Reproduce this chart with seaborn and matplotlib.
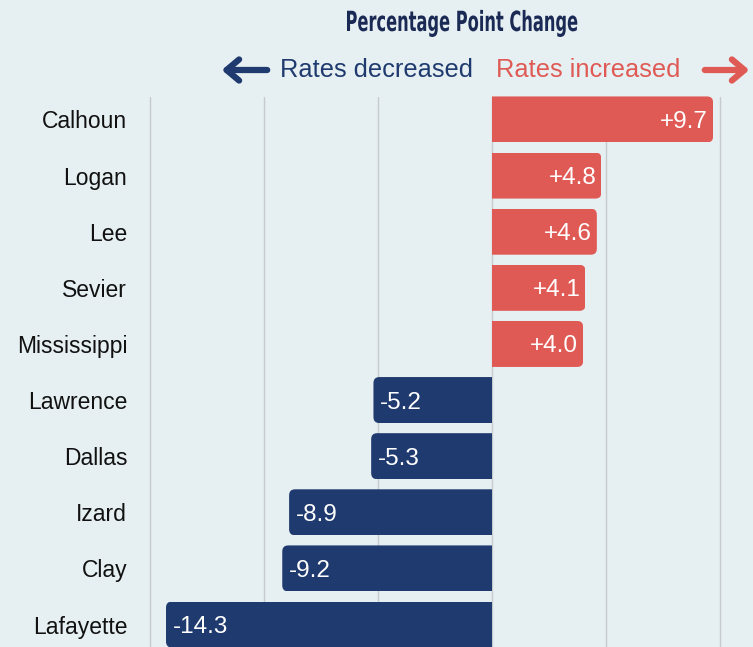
import matplotlib
matplotlib.use("Agg")
import matplotlib.pyplot as plt
import seaborn as sns
import pandas as pd
from matplotlib.patches import FancyBboxPatch, Rectangle, FancyArrowPatch
from matplotlib.patheffects import AbstractPathEffect
from matplotlib.transforms import Affine2D

# Data
counties = ['Calhoun', 'Logan', 'Lee', 'Sevier', 'Mississippi',
            'Lawrence', 'Dallas', 'Izard', 'Clay', 'Lafayette']
changes = [9.7, 4.8, 4.6, 4.1, 4.0, -5.2, -5.3, -8.9, -9.2, -14.3]
grid_ticks = [-15, -10, -5, 0, 5, 10]

bg = '#E6EFF1'
navy = '#1F3A6E'
red = '#E05A55'


class Squeeze(AbstractPathEffect):
    """Narrow text horizontally around a fixed x (display pixels)."""
    def __init__(self, sx, cx):
        super().__init__()
        self.sx = sx
        self.cx = cx

    def draw_path(self, renderer, gc, tpath, affine, rgbFace=None):
        t = affine + Affine2D().translate(-self.cx, 0).scale(self.sx, 1).translate(self.cx, 0)
        renderer.draw_path(gc, tpath, t, rgbFace)


sns.set_theme(style="whitegrid", rc={
    'axes.facecolor': bg,
    'figure.facecolor': bg,
    'grid.color': '#C6CBCE',
    'grid.linewidth': 1.0,
})
plt.rcParams['font.family'] = ['Liberation Sans', 'DejaVu Sans']

df = pd.DataFrame({'county': counties, 'change': changes})
df['direction'] = ['up' if v > 0 else 'down' for v in df['change']]

fig = plt.figure(figsize=(7.53, 6.47), dpi=100)
ax = fig.add_axes([148 / 753, 0, 605 / 753, 550 / 647])

sns.barplot(data=df, x='change', y='county', hue='direction', orient='h',
            palette={'up': red, 'down': navy}, width=0.82, dodge=False,
            saturation=1, legend=False, ax=ax)

ax.set_xlim(-15.09, 11.45)
ax.set_ylim(9.4, -0.4)
ax.set_xticks(grid_ticks)
ax.set_xticklabels([])
ax.tick_params(axis='x', length=0)
ax.tick_params(axis='y', length=0, pad=15, labelsize=16.5, labelcolor='#111111')
ax.grid(axis='y', visible=False)
ax.grid(axis='x', visible=True)
ax.set_axisbelow(True)
ax.set_xlabel('')
ax.set_ylabel('')
for s in ax.spines.values():
    s.set_visible(False)

# rounded bar ends on the outer side; zero side kept square by clipping
r = 0.263
asp = 0.407
for p in list(ax.patches):
    x0, w, y0, h = p.get_x(), p.get_width(), p.get_y(), p.get_height()
    if w == 0 or h == 0:
        continue
    fc = p.get_facecolor()
    p.set_visible(False)
    left = min(x0, x0 + w)
    aw = abs(w)
    if x0 + w > 0:
        box = FancyBboxPatch((left - 1, y0), aw + 1, h,
                             boxstyle=f"round,pad=0,rounding_size={r}",
                             mutation_aspect=asp, fc=fc, ec='none', zorder=3)
    else:
        box = FancyBboxPatch((left, y0), aw + 1, h,
                             boxstyle=f"round,pad=0,rounding_size={r}",
                             mutation_aspect=asp, fc=fc, ec='none', zorder=3)
    ax.add_patch(box)
    box.set_clip_path(Rectangle((left, y0), aw, h, transform=ax.transData))

# value labels inside bars
for i, v in enumerate(changes):
    if v > 0:
        ax.text(v - 0.22, i, f'+{v:.1f}', ha='right', va='center_baseline',
                color='white', fontsize=17.5, zorder=4)
    else:
        ax.text(v + 0.3, i, f'{v:.1f}', ha='left', va='center_baseline',
                color='white', fontsize=17.5, zorder=4)

# title (condensed look) and direction legend
title = fig.text(462 / 753, 1 - 31 / 647, 'Percentage Point Change', ha='center',
                 va='baseline', fontsize=20, color='#1B2A55', fontweight='bold',
                 fontstretch='condensed', family=['DejaVu Sans'])
fig.canvas.draw()
tw = title.get_window_extent().width
title.set_path_effects([Squeeze(233 / tw, 462)])

ytxt = 1 - 70 / 647
fig.text(376 / 753, ytxt, 'Rates decreased', ha='center', va='center',
         fontsize=18.3, color=navy)
fig.text(588 / 753, ytxt, 'Rates increased', ha='center', va='center',
         fontsize=18.3, color=red)
fig.add_artist(FancyArrowPatch((270 / 753, ytxt), (219 / 753, ytxt),
                               transform=fig.transFigure,
                               arrowstyle='->,head_length=0.45,head_width=0.38',
                               mutation_scale=20, lw=4.5, color=navy,
                               capstyle='round', joinstyle='round'))
fig.add_artist(FancyArrowPatch((702 / 753, ytxt), (752 / 753, ytxt),
                               transform=fig.transFigure,
                               arrowstyle='->,head_length=0.45,head_width=0.38',
                               mutation_scale=20, lw=4.5, color=red,
                               capstyle='round', joinstyle='round'))

fig.savefig('out.png', dpi=100, facecolor=bg)
